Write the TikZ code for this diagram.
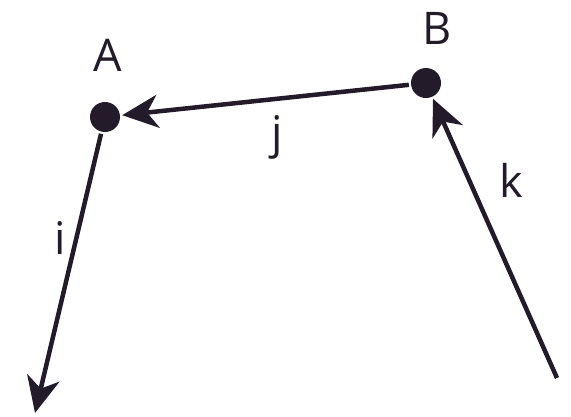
\documentclass[tikz,border=0pt]{standalone}
\usepackage{fontspec}
\setmainfont{Open Sans}
\usetikzlibrary{arrows.meta}

\definecolor{ink}{HTML}{231A2A}

\begin{document}
\begin{tikzpicture}[x=1pt, y=-1pt, line width=4.5pt, draw=ink,
    vec/.style={-{Stealth[length=36pt, width=33pt, inset=11pt]}},
    dot/.style={circle, fill=ink, inner sep=0pt, minimum size=30pt},
    lbl/.style={text=ink, font=\fontsize{45}{45}\selectfont}]
                \useasboundingbox (0,0) rectangle (571,416);

                % Points
                \node[dot] (A) at (105,117) {};
                \node[dot] (B) at (426,83) {};
                \coordinate (iend) at (35,413);
                \coordinate (kstart) at (557,378);

                % Vectors
                \draw[vec, ink] (B) -- (A);
                \draw[vec, ink] (A) -- (iend);
                \draw[vec, ink] (kstart) -- (B);

                % Labels
                \node[lbl] (labA) at (108,55) {A};
                \node[lbl] (labB) at (437,28) {B};
                \node[lbl] (labj) at (277,137) {j};
                \node[lbl] (labi) at (60,238) {i};
                \node[lbl] (labk) at (511,180) {k};
            \end{tikzpicture}
\end{document}
